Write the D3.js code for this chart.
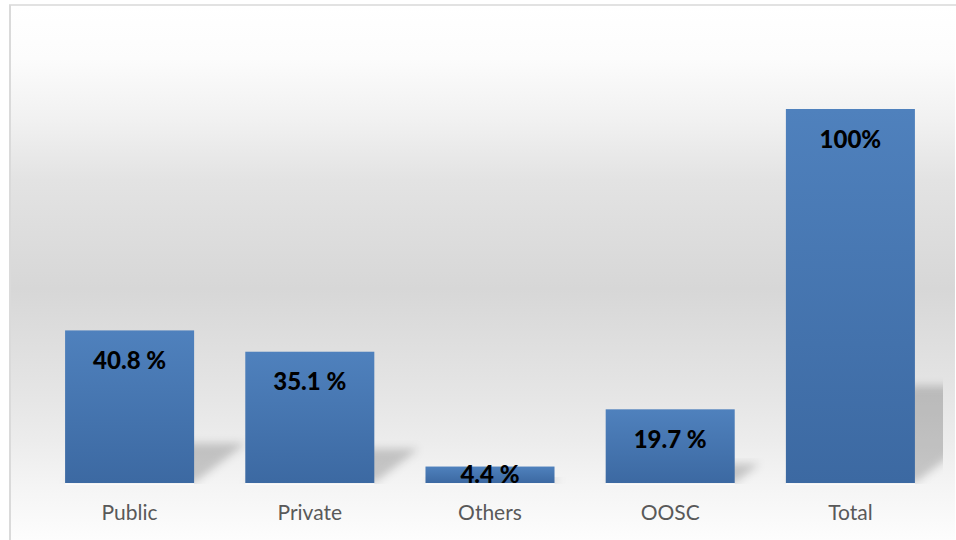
<!DOCTYPE html>
<html>
<head>
<meta charset="utf-8">
<script src="https://cdn.jsdelivr.net/npm/d3@7/dist/d3.min.js"></script>
<style>
  html, body { margin: 0; padding: 0; background: #ffffff; }
  svg { display: block; }
</style>
</head>
<body>
<svg id="chart" width="956" height="540"></svg>
<script>
// Share of children by school type
const categories = ["Public", "Private", "Others", "OOSC", "Total"];
const values = [40.8, 35.1, 4.4, 19.7, 100];
const valueLabels = ["40.8 %", "35.1 %", "4.4 %", "19.7 %", "100%"];

const W = 956, H = 540;
const svg = d3.select("#chart");
const defs = svg.append("defs");

// Chart area background: soft vertical grey band
const bg = defs.append("linearGradient")
  .attr("id", "bgGrad").attr("x1", 0).attr("y1", 0).attr("x2", 0).attr("y2", 1);
[[0, "#ffffff"], [0.10, "#fcfcfc"], [0.215, "#f1f1f1"], [0.327, "#e3e3e3"],
 [0.53, "#d7d7d7"], [0.738, "#e6e6e6"], [0.813, "#ececec"], [0.893, "#f4f4f4"],
 [1, "#fdfdfd"]].forEach(([o, c]) => bg.append("stop").attr("offset", o).attr("stop-color", c));

// Bar fill: lighter blue at the top, deeper at the base
const barGrad = defs.append("linearGradient")
  .attr("id", "barGrad").attr("x1", 0).attr("y1", 0).attr("x2", 0).attr("y2", 1);
barGrad.append("stop").attr("offset", 0).attr("stop-color", "#4f81bd");
barGrad.append("stop").attr("offset", 1).attr("stop-color", "#3c69a2");

const blur = defs.append("filter").attr("id", "shadowBlur")
  .attr("x", "-30%").attr("y", "-30%").attr("width", "160%").attr("height", "160%");
blur.append("feGaussianBlur").attr("stdDeviation", 4);

const margin = { left: 10, top: 5 };
svg.append("rect")
  .attr("x", margin.left).attr("y", margin.top)
  .attr("width", 945).attr("height", H - margin.top)
  .attr("fill", "url(#bgGrad)");

// Frame lines (top and left)
svg.append("line").attr("x1", 9).attr("x2", W).attr("y1", 5).attr("y2", 5)
  .attr("stroke", "#d9d9d9").attr("stroke-width", 1.5);
svg.append("line").attr("x1", 10).attr("x2", 10).attr("y1", 5).attr("y2", H)
  .attr("stroke", "#dadada").attr("stroke-width", 2);

const x = d3.scaleBand()
  .domain(categories)
  .range([39.5, 940.5])
  .paddingInner(0.284)
  .paddingOuter(0.142);

const y = d3.scaleLinear().domain([0, 100]).range([483, 109]);
const base = y(0);

const data = categories.map((c, i) => ({ cat: c, v: values[i], label: valueLabels[i] }));

// Perspective shadows cast back and to the right
defs.append("clipPath").attr("id", "plotClip")
  .append("rect").attr("x", 12).attr("y", 0).attr("width", 931).attr("height", base + 1);

svg.append("g")
  .attr("clip-path", "url(#plotClip)")
  .selectAll("path")
  .data(data)
  .join("path")
  .attr("d", d => {
    const x0 = x(d.cat), x1 = x0 + x.bandwidth();
    const h = (base - y(d.v)) * 0.26;
    const s = h * 1.3;
    return `M${x0},${base}L${x1},${base}L${x1 + s},${base - h}L${x0 + s},${base - h}Z`;
  })
  .attr("fill", "#000")
  .attr("fill-opacity", 0.19)
  .attr("filter", "url(#shadowBlur)");

// Light reflection line under each bar
svg.append("g").selectAll("rect")
  .data(data)
  .join("rect")
  .attr("x", d => x(d.cat))
  .attr("y", base)
  .attr("width", x.bandwidth())
  .attr("height", 2)
  .attr("fill", "#ffffff")
  .attr("fill-opacity", 0.6);

// Bars
svg.append("g").selectAll("rect")
  .data(data)
  .join("rect")
  .attr("x", d => x(d.cat))
  .attr("y", d => y(d.v))
  .attr("width", x.bandwidth())
  .attr("height", d => base - y(d.v))
  .attr("fill", "url(#barGrad)");

// Value labels inside the bar ends
svg.append("g").selectAll("text")
  .data(data)
  .join("text")
  .attr("x", d => x(d.cat) + x.bandwidth() / 2)
  .attr("y", d => Math.min(y(d.v) + 30, (y(d.v) + base) / 2))
  .attr("dy", "0.36em")
  .attr("text-anchor", "middle")
  .attr("font-family", "Lato, 'Open Sans', sans-serif")
  .attr("font-weight", 900)
  .attr("font-size", 24)
  .attr("fill", "#000000")
  .text(d => d.label);

// Category axis (labels only)
const axis = svg.append("g")
  .attr("transform", `translate(0,${base})`)
  .call(d3.axisBottom(x).tickSize(0).tickPadding(0));
axis.select(".domain").remove();
axis.selectAll("text")
  .attr("y", 37)
  .attr("dy", 0)
  .attr("font-family", "Lato, 'Open Sans', sans-serif")
  .attr("font-size", 21)
  .attr("fill", "#595959");
</script>
</body>
</html>
